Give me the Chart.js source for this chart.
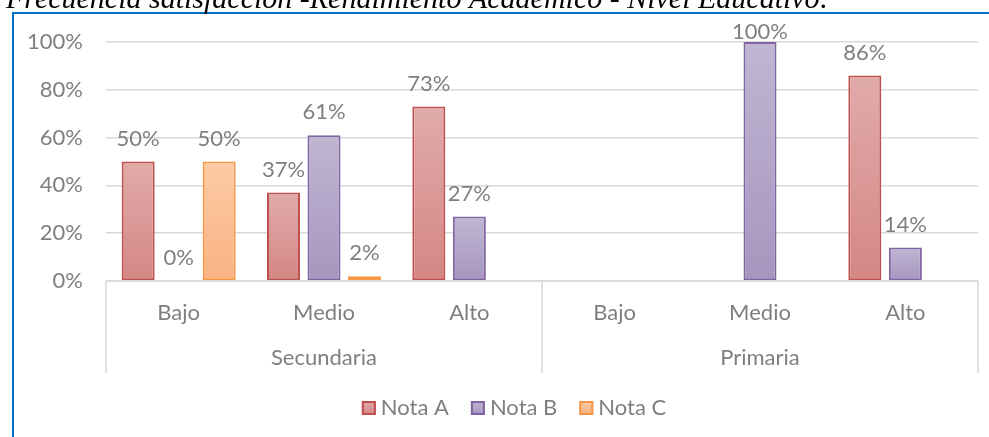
<!DOCTYPE html>
<html>
<head>
<meta charset="utf-8">
<script src="https://cdn.jsdelivr.net/npm/chart.js@4"></script>
<style>
    html, body { margin: 0; padding: 0; background: #fff; overflow: hidden; }
    #wrap { position: relative; width: 989px; height: 437px; }
    #frame { position: absolute; left: 12px; top: 12px; right: 0; bottom: 0; border-top: 2px solid #0070c0; border-left: 2px solid #0070c0; }
    canvas { position: absolute; left: 0; top: 0; }
</style>
</head>
<body>
<div id="wrap">
    <div id="frame"></div>
    <canvas id="grafico" width="989" height="437"></canvas>
</div>
<script>
const titulo = 'Frecuencia satisfacción -Rendimiento Académico - Nivel Educativo:';
const niveles = ['Bajo', 'Medio', 'Alto', 'Bajo', 'Medio', 'Alto'];
const grupos = ['Secundaria', 'Primaria'];
const seriesNombres = ['Nota A', 'Nota B', 'Nota C'];
const notaA = [50, 37, 73, null, null, 86];
const notaB = [0, 61, 27, null, 100, 14];
const notaC = [50, 2, null, null, null, null];
const ticksY = [0, 20, 40, 60, 80, 100];

const gris = '#7f7f7f';
const fuente = '22px Lato';
const colores = [
    { borde: '#c0504d', arriba: '#e0abaa', abajo: '#d48785' },
    { borde: '#8064a2', arriba: '#c0b6d3', abajo: '#a696bf' },
    { borde: '#f79646', arriba: '#fccba5', abajo: '#f9b282' }
];

function degradado(ctx, c, top, bottom) {
    let g = ctx.createLinearGradient(0, top, 0, bottom);
    g.addColorStop(0, c.arriba);
    g.addColorStop(1, c.abajo);
    return g;
}

function relleno(i) {
    return (context) => {
        const chart = context.chart;
        const y = chart.scales.y;
        if (!chart.chartArea || !y || context.raw == null) return colores[i].abajo;
        const top = y.getPixelForValue(context.raw);
        const base = y.getPixelForValue(0);
        if (base - top < 1) return colores[i].abajo;
        return degradado(chart.ctx, colores[i], top, base);
    };
}

const extras = {
    id: 'extras',
    afterDatasetsDraw(chart) {
        const ctx = chart.ctx;
        const area = chart.chartArea;
        const x = chart.scales.x;
        ctx.save();

        // etiquetas de datos
        ctx.font = fuente;
        ctx.fillStyle = gris;
        ctx.textAlign = 'center';
        ctx.textBaseline = 'middle';
        chart.data.datasets.forEach((ds, i) => {
            chart.getDatasetMeta(i).data.forEach((bar, j) => {
                if (ds.data[j] == null) return;
                ctx.fillText(ds.data[j] + '%', bar.x, Math.max(bar.y - 23, 32));
            });
        });

        // eje de categorias en dos niveles
        const yEje = area.bottom;
        const yFondo = yEje + 92;
        ctx.strokeStyle = '#d9d9d9';
        ctx.lineWidth = 1.5;
        ctx.beginPath();
        ctx.moveTo(area.left, yEje);
        ctx.lineTo(area.right, yEje);
        const ancho = (area.right - area.left) / niveles.length;
        [0, 3, 6].forEach(k => {
            const px = area.left + k * ancho;
            ctx.moveTo(px, yEje);
            ctx.lineTo(px, yFondo);
        });
        ctx.stroke();

        niveles.forEach((n, j) => {
            ctx.fillText(n, x.getPixelForValue(j), yEje + 32);
        });
        grupos.forEach((g, k) => {
            const cx = (x.getPixelForValue(k * 3) + x.getPixelForValue(k * 3 + 2)) / 2;
            ctx.fillText(g, cx, yEje + 77);
        });

        // leyenda
        const caja = 14, hueco = 5, sep = 22;
        const anchos = seriesNombres.map(s => ctx.measureText(s).width);
        const total = anchos.reduce((a, w) => a + caja + hueco + w, 0) + sep * (seriesNombres.length - 1);
        let lx = 514 - total / 2;
        const ly = 408;
        ctx.textAlign = 'left';
        seriesNombres.forEach((s, i) => {
            ctx.fillStyle = degradado(ctx, colores[i], ly - caja / 2, ly + caja / 2);
            ctx.fillRect(lx, ly - caja / 2, caja, caja);
            ctx.strokeStyle = colores[i].borde;
            ctx.lineWidth = 2;
            ctx.strokeRect(lx + 1, ly - caja / 2 + 1, caja - 2, caja - 2);
            ctx.fillStyle = gris;
            ctx.fillText(s, lx + caja + hueco, ly);
            lx += caja + hueco + anchos[i] + sep;
        });

        // titulo recortado arriba
        ctx.fillStyle = '#000';
        ctx.font = 'italic 30px "Liberation Serif"';
        ctx.textBaseline = 'alphabetic';
        ctx.fillText(titulo, 6, 8);
        ctx.restore();
    }
};

let ctxGrafico = document.getElementById('grafico').getContext('2d');
let datos = [notaA, notaB, notaC];

new Chart(ctxGrafico, {
    type: 'bar',
    data: {
        labels: niveles,
        datasets: datos.map((d, i) => ({
            label: seriesNombres[i],
            data: d,
            backgroundColor: relleno(i),
            borderColor: colores[i].borde,
            borderWidth: 2,
            borderSkipped: false,
            barPercentage: 0.815,
            categoryPercentage: 0.836
        }))
    },
    options: {
        responsive: false,
        animation: false,
        events: [],
        layout: { padding: { left: 0, top: 42, right: 11, bottom: 156 } },
        plugins: {
            legend: { display: false },
            title: { display: false },
            tooltip: { enabled: false }
        },
        scales: {
            x: { display: false },
            y: {
                min: 0,
                max: 100,
                afterFit: (scale) => { scale.width = 106; },
                afterBuildTicks: (scale) => { scale.ticks = ticksY.map(v => ({ value: v })); },
                border: { display: false },
                grid: { color: '#d9d9d9', lineWidth: 1.5, drawTicks: false },
                ticks: {
                    padding: 23,
                    color: gris,
                    font: { family: 'Lato', size: 22 },
                    callback: (v) => v + '%'
                }
            }
        }
    },
    plugins: [extras]
});
</script>
</body>
</html>
